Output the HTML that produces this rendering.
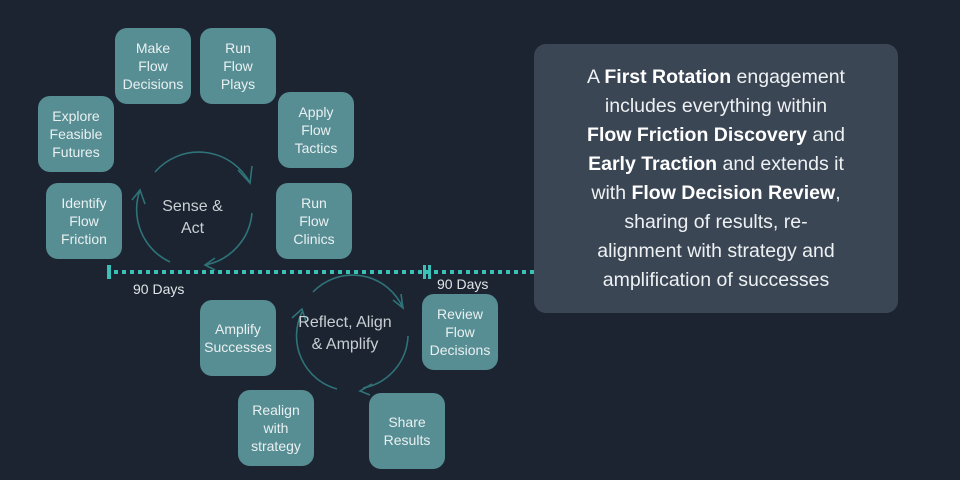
<!DOCTYPE html>
<html><head><meta charset="utf-8"><style>
html,body{margin:0;padding:0}
body{width:960px;height:480px;background:#1b2430;position:relative;overflow:hidden;font-family:"Liberation Sans","DejaVu Sans",sans-serif}
.b{position:absolute;width:76px;height:76px;background:#578e94;border-radius:12px;color:#e9f0f1;font-size:14px;line-height:18px;display:flex;align-items:center;justify-content:center;text-align:center}
.lbl{position:absolute;color:#c9cfd3;font-size:16px;line-height:22px;text-align:center}
.d{position:absolute;color:#dfe4e7;font-size:14px}
.panel{position:absolute;left:534px;top:44px;width:364px;height:269px;background:#3b4655;border-radius:12px;color:#eef1f3;font-size:19.5px;line-height:29px;text-align:center;box-sizing:border-box;padding-top:19px}
.panel b{font-weight:bold;color:#fff}
</style></head><body>
<svg width="960" height="480" style="position:absolute;left:0;top:0">
<g fill="none" stroke="#2f7378" stroke-width="1.6">
<path d="M155 172 A58 58 0 0 1 250 183"/>
<path d="M238 170 L250 183 L252 166"/>
<path d="M252 213 A58 58 0 0 1 205 265"/>
<path d="M215 258 L205 265 L215 270"/>
<path d="M170 262 A58 58 0 0 1 140 190"/>
<path d="M132 200 L140 190 L145 204"/>
<path d="M313 292 A55 55 0 0 1 403 308"/>
<path d="M393 300 L403 308 L401 294"/>
<path d="M408 336 A55 55 0 0 1 363 388"/>
<path d="M372 384 L360 391 L370 395"/>
<path d="M337 389 A55 55 0 0 1 302 312"/>
<path d="M292 318 L302 309 L306 322"/>
</g>
<line x1="114" y1="272" x2="534" y2="272" stroke="#3bbfb6" stroke-width="4" stroke-dasharray="4 4"/>
<rect x="107" y="265" width="4" height="14" fill="#3bbfb6"/>
<rect x="423" y="265" width="3" height="14" fill="#3bbfb6"/>
<rect x="428" y="265" width="3" height="14" fill="#3bbfb6"/>
</svg>
<div class="b" style="left:115px;top:28px">Make<br>Flow<br>Decisions</div>
<div class="b" style="left:200px;top:28px">Run<br>Flow<br>Plays</div>
<div class="b" style="left:38px;top:96px">Explore<br>Feasible<br>Futures</div>
<div class="b" style="left:278px;top:92px">Apply<br>Flow<br>Tactics</div>
<div class="b" style="left:46px;top:183px">Identify<br>Flow<br>Friction</div>
<div class="b" style="left:276px;top:183px">Run<br>Flow<br>Clinics</div>
<div class="b" style="left:200px;top:300px">Amplify<br>Successes</div>
<div class="b" style="left:422px;top:294px">Review<br>Flow<br>Decisions</div>
<div class="b" style="left:238px;top:390px">Realign<br>with<br>strategy</div>
<div class="b" style="left:369px;top:393px">Share<br>Results</div>
<div class="lbl" style="left:150px;top:196px;width:85px">Sense &amp;<br>Act</div>
<div class="lbl" style="left:285px;top:312px;width:120px">Reflect, Align<br>&amp; Amplify</div>
<div class="d" style="left:133px;top:281px">90 Days</div>
<div class="d" style="left:437px;top:276px">90 Days</div>
<div class="panel">A <b>First Rotation</b> engagement<br>includes everything within<br><b>Flow Friction Discovery</b> and<br><b>Early Traction</b> and extends it<br>with <b>Flow Decision Review</b>,<br>sharing of results, re-<br>alignment with strategy and<br>amplification of successes</div>
</body></html>
